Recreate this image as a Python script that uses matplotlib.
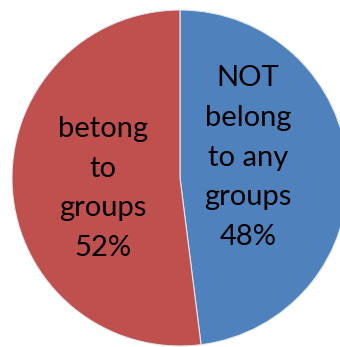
import matplotlib
matplotlib.use("Agg")
import matplotlib.pyplot as plt

# Group membership shares
categories = ["NOT\nbelong\nto any\ngroups", "betong\nto\ngroups"]
values = [48, 52]
colors = ["#4F81BD", "#C0504D"]

W, H = 340, 347
fig = plt.figure(figsize=(W / 100, H / 100), dpi=100)
ax = fig.add_axes([0, 0, 1, 1])

cx, cy, r = 180, H - 178, 168
wedges, _ = ax.pie(values, colors=colors, startangle=90, counterclock=False,
                   center=(cx, cy), radius=r, frame=True,
                   wedgeprops=dict(edgecolor="#dfe6ef", linewidth=0.8))
ax.set_xlim(0, W)
ax.set_ylim(0, H)
ax.axis("off")

label_pos = [(248, H - 157.5), (103, H - 188.5)]
for lab, v, (x, y) in zip(categories, values, label_pos):
    ax.text(x, y, f"{lab}\n{v}%", ha="center", va="center", fontsize=21,
            family="Lato", linespacing=1.66, color="black")

fig.savefig("out.png", dpi=100)
